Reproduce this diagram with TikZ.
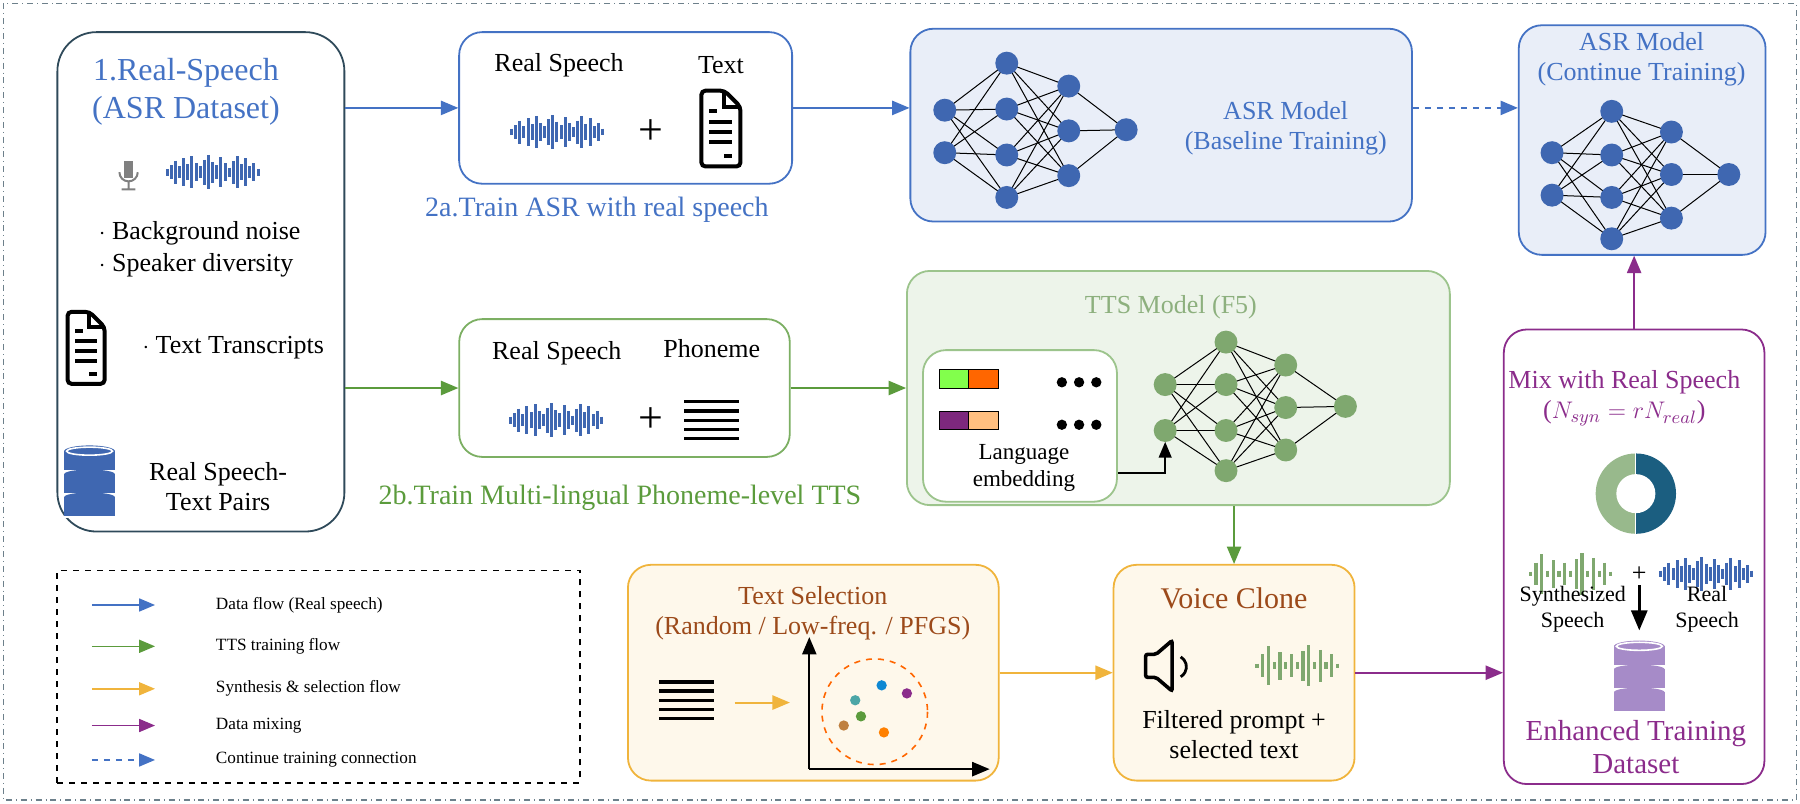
\documentclass[tikz,border=0pt]{standalone}
\usepackage{fontspec}
\setmainfont{Liberation Serif}
\usepackage{tikz}
\usetikzlibrary{shapes, arrows, calc, positioning}
\definecolor{asrblue}{HTML}{4472C4}
\definecolor{ttsgreen}{HTML}{5B9B3C}
\definecolor{palegreen}{HTML}{9CC48C}
\definecolor{selyellow}{HTML}{F0B43C}
\definecolor{selbrown}{HTML}{9C4A1A}
\definecolor{mixpurple}{HTML}{8B2C8B}
\definecolor{slate}{HTML}{2F4A5A}
\definecolor{nodeblue}{HTML}{3F67B1}
\definecolor{nodegreen}{HTML}{7FA86F}
\definecolor{dbpurple}{HTML}{A68BC8}
\definecolor{donutblue}{HTML}{1B5E80}
\tikzstyle{box} = [rectangle, rounded corners=11.5pt, draw, line width=0.9pt]
\tikzstyle{link} = [line width=0.5pt, black]
\tikzstyle{arrow} = [line width=1pt, ->, >=triangle 45]
\tikzstyle{legendtext} = [anchor=west, font=\fontsize{8.6}{10}\selectfont]
\newcommand{\bluewave}[2]{%
  \foreach \h [count=\i] in {3,6,10,5,12,7,14,8,5,11,15,9,6,13,8,4,10,14,7,12,5,8,3}
    \draw[nodeblue, line width=1.5pt] ($(#1,#2)+(\i*3.6-43,-\h)$) -- ++(0,2*\h);}
\newcommand{\greenwave}[2]{%
  \foreach \h [count=\i] in {2,10,17,3,12,3,10,3,13,18,3,14,3,10,2}
    \draw[nodegreen, line width=1.6pt] ($(#1,#2)+(\i*5-40,-\h)$) -- ++(0,2*\h);}
\newcommand{\docicon}[3]{% x, y, scale
  \begin{scope}[shift={(#1,#2)}, scale=#3, line width=2pt, black]
    \draw[rounded corners=2pt] (-17,-33) -- (-17,33) -- (17,33) -- (17,-19) -- (3,-33) -- cycle;
    \draw (3,-33) -- (3,-19) -- (17,-19);
    \foreach \yy in {-6,3,12} \draw (-10,\yy) -- (10,\yy);
    \draw (-10,-15) -- (-3,-15); \draw (3,24) -- (10,24);
  \end{scope}}
\newcommand{\lineicon}[2]{%
  \foreach \yy in {-16,-8,0,8,16} \draw[line width=1.6pt] ($(#1,#2)+(-24,\yy)$) -- ++(48,0);}
\newcommand{\dbicon}[3]{% x, y, colour
  \foreach \yy in {-20,0,20} {
    \fill[#3] ($(#1,#2)+(-22,\yy-9)$) rectangle ++(44,18);
    \fill[#3] ($(#1,#2)+(0,\yy-9)$) ellipse [x radius=22, y radius=4];
    \fill[white] ($(#1,#2)+(-22,\yy+9)$) rectangle ++(44,-1.5);}
  \fill[#3] ($(#1,#2)+(0,-29)$) ellipse [x radius=22, y radius=5];
  \draw[white, line width=0.8pt] ($(#1,#2)+(0,-29)$) ellipse [x radius=20, y radius=3.5];}
\begin{document}
\begin{tikzpicture}[x=0.574pt, y=-0.574pt, font=\fontsize{13}{15}\selectfont]
    \useasboundingbox (0,0) rectangle (1568,699.5);
    \draw[slate!70, dash dot, line width=0.8pt] (3,3) rectangle (1565,697);
    % boxes
    \node (RealData) [box, draw=slate, rounded corners=19.5pt, minimum width=143.5pt, minimum height=249.7pt] at (175,245.5) {};
    \node (TrainASR) [box, draw=asrblue, minimum width=166.5pt, minimum height=75.8pt] at (545,94) {};
    \node (ASRBase) [box, draw=asrblue, fill=asrblue!12, minimum width=250.8pt, minimum height=96.4pt] at (1011.5,109) {};
    \node (ASRCont) [box, draw=asrblue, fill=asrblue!12, minimum width=123.4pt, minimum height=114.8pt] at (1430.5,122) {};
    \node (TrainTTS) [box, draw=ttsgreen!80, minimum width=165.3pt, minimum height=68.9pt] at (544,338) {};
    \node (TTSModel) [box, draw=palegreen, fill=palegreen!18, minimum width=271.5pt, minimum height=117.1pt] at (1026.5,338) {};
    \node (LangEmb) [box, draw=palegreen, fill=white, minimum width=97pt, minimum height=75.8pt] at (888.5,371) {};
    \node (TextSel) [box, draw=selyellow, fill=selyellow!10, minimum width=185.4pt, minimum height=107.9pt] at (708.5,586) {};
    \node (Clone) [box, draw=selyellow, fill=selyellow!10, minimum width=120.5pt, minimum height=107.9pt] at (1075,586) {};
    \node (Mix) [box, draw=mixpurple, minimum width=130.3pt, minimum height=227.3pt] at (1423.5,485) {};
    \node (Legend) [rectangle, draw, dashed, line width=0.9pt, minimum width=261.2pt, minimum height=106.2pt] at (277.5,589.5) {};
    % real speech dataset
    \node[asrblue, font=\fontsize{16}{19}\selectfont, align=center] at (162,80) {1.Real-Speech\\(ASR Dataset)};
    \fill[gray] (108,140) rectangle ++(8,15); \draw[gray, line width=1pt] (104,150) arc (180:0:8) (112,158) -- (112,165) (106,165) -- (118,165);
    \bluewave{185}{150}
    \node[anchor=west] at (80,203) {$\cdot$ Background noise};
    \node[anchor=west] at (80,231) {$\cdot$ Speaker diversity};
    \docicon{75}{303}{0.95}
    \node[anchor=west] at (118,303) {$\cdot$ Text Transcripts};
    \dbicon{78}{422}{nodeblue}
    \node[align=center] at (190,424) {Real Speech-\\Text Pairs};
    % train asr
    \node at (487,57) {Real Speech};
    \node at (628,57) {Text};
    \bluewave{485}{115}
    \node[font=\fontsize{22}{22}\selectfont] at (567,115) {+};
    \docicon{628}{112}{1}
    \node[asrblue, font=\fontsize{14}{16}\selectfont] at (520,183) {2a.Train ASR with real speech};
    \node[asrblue, align=center] at (1120,112) {ASR Model\\(Baseline Training)};
    \node[asrblue, align=center] at (1430,52) {ASR Model\\(Continue Training)};
    % train tts
    \node at (485,308) {Real Speech};
    \node at (620,304) {Phoneme};
    \bluewave{484}{366}
    \node[font=\fontsize{22}{22}\selectfont] at (567,366) {+};
    \lineicon{620}{366}
    \node[ttsgreen, font=\fontsize{14}{16}\selectfont] at (540,434) {2b.Train Multi-lingual Phoneme-level TTS};
    \node[palegreen!90!black] at (1020,268) {TTS Model (F5)};
    \draw[fill=green!60!lime!70] (818,322) rectangle (844,338);
    \draw[fill=orange!80!red] (844,322) rectangle (870,338);
    \draw[fill=mixpurple!90!black] (818,358) rectangle (844,374);
    \draw[fill=orange!50] (844,358) rectangle (870,374);
    \foreach \yy in {333,370} \foreach \xx in {925,940,955} \fill (\xx,\yy) circle (4.5);
    \node[align=center, font=\fontsize{11.5}{13.5}\selectfont] at (892,408) {Language\\embedding};
    % networks
    \foreach \n/\yy in {1/96, 2/133} \coordinate (BaseIn\n) at (823,\yy);
    \foreach \n/\yy in {1/55, 2/95, 3/135, 4/172} \coordinate (BaseHa\n) at (877,\yy);
    \foreach \n/\yy in {1/75, 2/114, 3/153} \coordinate (BaseHb\n) at (931,\yy);
    \coordinate (BaseOut) at (981,113);
    \foreach \n/\yy in {1/133, 2/170} \coordinate (ContIn\n) at (1352,\yy);
    \foreach \n/\yy in {1/97, 2/135, 3/172, 4/208} \coordinate (ContHa\n) at (1404,\yy);
    \foreach \n/\yy in {1/115, 2/152, 3/190} \coordinate (ContHb\n) at (1456,\yy);
    \coordinate (ContOut) at (1506,152);
    \foreach \n/\yy in {1/335, 2/375} \coordinate (TTSIn\n) at (1015,\yy);
    \foreach \n/\yy in {1/298, 2/335, 3/375, 4/410} \coordinate (TTSHa\n) at (1068,\yy);
    \foreach \n/\yy in {1/318, 2/355, 3/392} \coordinate (TTSHb\n) at (1120,\yy);
    \coordinate (TTSOut) at (1172,354);
    \foreach \net/\cc in {Base/nodeblue, Cont/nodeblue, TTS/nodegreen} {
      \foreach \i in {1,2} \foreach \j in {1,...,4} \draw[link] (\net In\i) -- (\net Ha\j);
      \foreach \i in {1,...,4} \foreach \j in {1,2,3} \draw[link] (\net Ha\i) -- (\net Hb\j);
      \foreach \i in {1,2,3} \draw[link] (\net Hb\i) -- (\net Out);
      \foreach \p in {In1,In2,Ha1,Ha2,Ha3,Ha4,Hb1,Hb2,Hb3,Out} \fill[\cc] (\net\p) circle (10);
    }
    \draw[arrow, line width=0.8pt] (LangEmb.east |- 0,412) -| ($(TTSIn2)+(0,10)$);
    % text selection
    \node[selbrown, align=center] at (708,534) {Text Selection\\(Random / Low-freq. / PFGS)};
    \lineicon{598}{610}
    \draw[arrow, selyellow] (640,612) -- (688,612);
    \draw[->, >=triangle 45, line width=1pt] (705,670) -- (705,555);
    \draw[->, >=triangle 45, line width=1pt] (705,670) -- (862,670);
    \draw[dashed, orange!80!red, line width=0.8pt] (762,620) circle (46);
    \foreach \xx/\yy/\cc in {745/610/teal!70, 768/597/cyan!70!blue, 790/604/mixpurple, 735/632/brown, 750/624/ttsgreen, 770/638/orange}
      \fill[\cc] (\xx,\yy) circle (4.5);
    % voice clone
    \node[selbrown, font=\fontsize{15}{17}\selectfont] at (1075,521) {Voice Clone};
    \draw[line width=1.8pt, rounded corners=1pt] (998,570) -- (1007,570) -- (1021,558) -- (1021,602) -- (1007,590) -- (998,590) -- cycle;
    \draw[line width=1.4pt] (1028.5,572.2) arc (-60:60:10);
    \greenwave{1130}{580}
    \node[align=center] at (1075,640) {Filtered prompt +\\selected text};
    % mixing
    \node[mixpurple, align=center] at (1415,347) {Mix with Real Speech\\($N_{syn} = rN_{real}$)};
    \begin{scope}
      \clip (1380,390) rectangle (1425,470);
      \fill[nodegreen!80] (1425,430) circle (35);
    \end{scope}
    \begin{scope}
      \clip (1425,390) rectangle (1470,470);
      \fill[donutblue] (1425,430) circle (35);
    \end{scope}
    \fill[white] (1425,430) circle (17);
    \draw[white, line width=0.6pt] (1425,394) -- (1425,466);
    \greenwave{1368}{500}
    \node at (1428,500) {+};
    \bluewave{1486}{500}
    \draw[->, >=triangle 45, line width=1.3pt] (1428,510) -- (1428,549);
    \node[align=center, font=\fontsize{11}{13}\selectfont] at (1370,531) {Synthesized\\Speech};
    \node[align=center, font=\fontsize{11}{13}\selectfont] at (1487,531) {Real\\Speech};
    \dbicon{1428}{592}{dbpurple}
    \node[mixpurple, align=center, font=\fontsize{14.5}{16.5}\selectfont] at (1425,651) {Enhanced Training\\Dataset};
    % main flow
    \draw[arrow, asrblue] (RealData.east |- TrainASR) -- (TrainASR.west);
    \draw[arrow, asrblue] (TrainASR.east) -- (TrainASR.east -| ASRBase.west);
    \draw[arrow, asrblue, dashed] (ASRBase.east |- TrainASR.east) -- (TrainASR.east -| ASRCont.west);
    \draw[arrow, ttsgreen] (RealData.east |- TrainTTS) -- (TrainTTS.west);
    \draw[arrow, ttsgreen] (TrainTTS.east) -- (TrainTTS.east -| TTSModel.west);
    \draw[arrow, ttsgreen] (TTSModel.south -| Clone.north) -- (Clone.north);
    \draw[arrow, selyellow] (TextSel.east) -- (Clone.west);
    \draw[arrow, mixpurple] (Clone.east) -- (Clone.east -| Mix.west);
    \draw[arrow, mixpurple] (Mix.north) -- (Mix.north |- ASRCont.south);
    % legend
    \foreach \yy/\cc/\txt in {527/asrblue/Data flow (Real speech), 563/ttsgreen/TTS training flow, 600/selyellow/Synthesis \& selection flow, 632/mixpurple/Data mixing} {
      \draw[->, >=triangle 45, \cc, line width=0.8pt] (80,\yy) -- (135,\yy);
      \node[legendtext] at (182,\yy) {\txt};
    }
    \draw[->, >=triangle 45, asrblue, dashed, line width=0.8pt] (80,662) -- (135,662);
    \node[legendtext] at (182,662) {Continue training connection};
\end{tikzpicture}
\end{document}
